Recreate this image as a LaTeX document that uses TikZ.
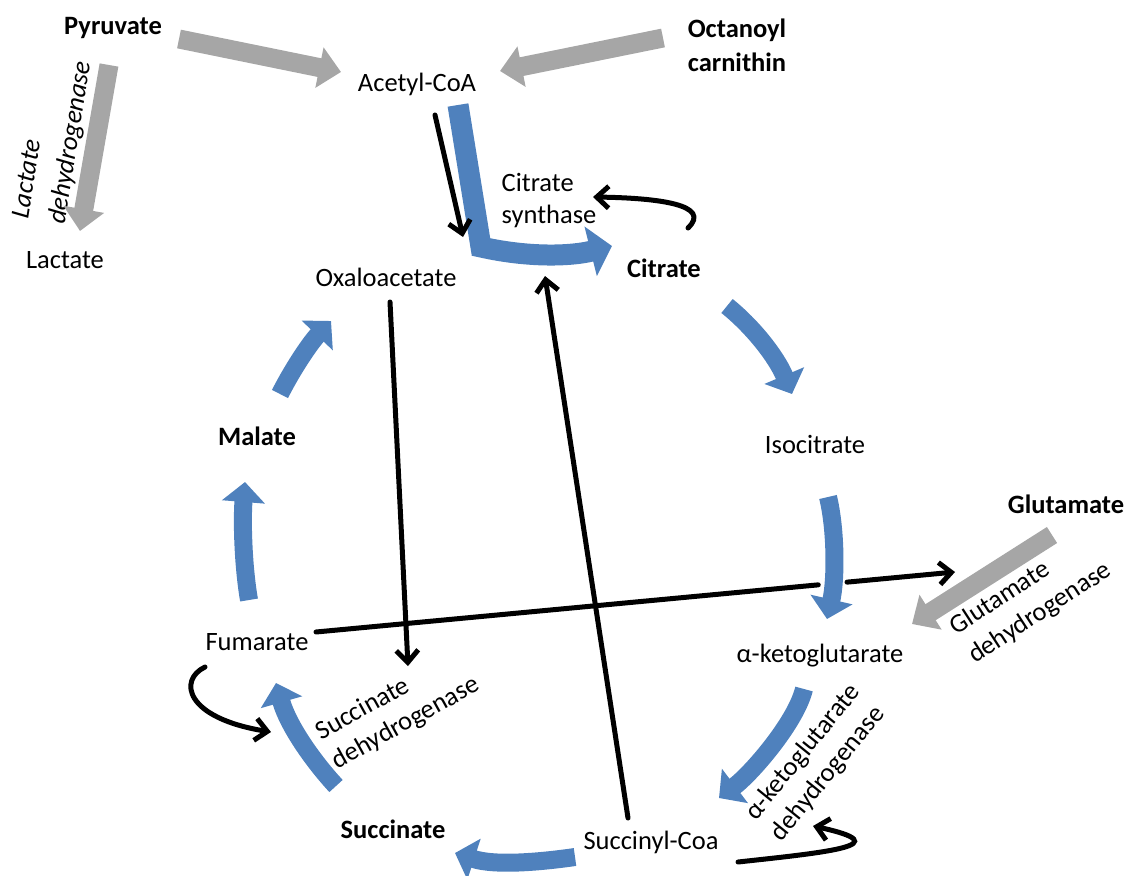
\documentclass[tikz,border=0pt]{standalone}
\usepackage{fontspec}
\setmainfont{Carlito}
\usepackage{xcolor}
\usepackage{tikz}
\usetikzlibrary{arrows.meta}

\definecolor{cycblue}{RGB}{79,129,189}
\definecolor{sidegray}{RGB}{166,166,166}

\begin{document}
\fontsize{26.5}{32}\selectfont
\begin{tikzpicture}[x=1pt, y=-1pt, every node/.style={inner sep=0pt},
  lbl/.style={anchor=base},
  enz/.style={align=left, anchor=center},
  cyc/.style={draw=cycblue, line width=18pt, -{Triangle[width=42pt,length=20pt]}},
  side/.style={draw=sidegray, line width=19pt, -{Triangle[width=40pt,length=22pt]}},
  flow/.style={draw=black, line width=5pt, line cap=round, -{Straight Barb[length=12pt,width=22pt]}}]
\useasboundingbox (0,0) rectangle (1131,875);

% metabolites
\node[lbl, font=\bfseries] (pyr) at (113,35) {Pyruvate};
\node[lbl] (lac) at (65,268) {Lactate};
\node[lbl] (acoa) at (417,91) {Acetyl-CoA};
\node[enz, font=\bfseries] (oct) at (737,45) {Octanoyl\\[2pt]carnithin};
\node[lbl] (oxa) at (386,286) {Oxaloacetate};
\node[lbl, font=\bfseries] (cit) at (664,277) {Citrate};
\node[lbl] (iso) at (815,453) {Isocitrate};
\node[lbl] (akg) at (820,662) {α-ketoglutarate};
\node[lbl, font=\bfseries] (glu) at (1066,513) {Glutamate};
\node[lbl] (scoa) at (651,849) {Succinyl-Coa};
\node[lbl, font=\bfseries] (succ) at (393,838) {Succinate};
\node[lbl] (fum) at (257,650) {Fumarate};
\node[lbl, font=\bfseries] (mal) at (257,445) {Malate};

% enzymes
\node[enz, font=\itshape, rotate=81] (ldh) at (53,140) {Lactate\\[5pt]dehydrogenase};
\node[enz] (cs) at (549,201) {Citrate\\synthase};
\node[enz, rotate=33] (gdh) at (1031,599) {Glutamate\\[2pt]dehydrogenase};
\node[enz, rotate=51] (kgdh) at (816,763) {α-ketoglutarate\\[1pt]dehydrogenase};
\node[enz, rotate=29] (sdh) at (398,709) {Succinate\\[1pt]dehydrogenase};

% arrow ends
\coordinate (p1) at (179,39);   \coordinate (p2) at (341,72);
\coordinate (o1) at (663,38);   \coordinate (o2) at (500,71);
\coordinate (l1) at (109,65);   \coordinate (l2) at (80,231);
\coordinate (g1) at (1052,535); \coordinate (g2) at (912,624);

\coordinate (c0) at (458,105);  \coordinate (c1) at (481,247);  \coordinate (c2) at (612,246);
\coordinate (i1) at (727,306);  \coordinate (i2) at (792,394);
\coordinate (k1) at (828,497);  \coordinate (k2) at (827,619);
\coordinate (s1) at (804,689);  \coordinate (s2) at (719,798);
\coordinate (u1) at (575,857);  \coordinate (u2) at (455,853);
\coordinate (f1) at (336,786);  \coordinate (f2) at (276,683);
\coordinate (m1) at (249,600);  \coordinate (m2) at (245,482);
\coordinate (x1) at (280,394);  \coordinate (x2) at (331,321);

\coordinate (a1) at (435,115);  \coordinate (a2) at (463,237);
\coordinate (b1) at (390,302);  \coordinate (b2) at (408,666);
\coordinate (d1) at (628,818);  \coordinate (d2) at (545,276);
\coordinate (e1) at (316,632);  \coordinate (e2) at (955,572);
\coordinate (h1) at (688,228);  \coordinate (h2) at (593,197);
\coordinate (j1) at (205,667);  \coordinate (j2) at (271,732);
\coordinate (n1) at (738,862);  \coordinate (n2) at (813,826);

% side routes
\draw[side] (p1) -- (p2);
\draw[side] (o1) -- (o2);
\draw[side] (l1) -- (l2);
\draw[side] (g1) -- (g2);

% cycle
\draw[cyc, line width=21pt, line join=miter, -{Triangle[width=50pt,length=22pt]}]
  (c0) -- (c1) .. controls (530,258) and (572,256) .. (c2);
\draw[cyc] (i1) .. controls (752,326) and (776,356) .. (i2);
\draw[cyc] (k1) .. controls (836,530) and (836,580) .. (k2);
\draw[cyc] (s1) .. controls (796,722) and (752,773) .. (s2);
\draw[cyc] (u1) .. controls (540,862) and (495,866) .. (u2);
\draw[cyc] (f1) .. controls (312,760) and (288,725) .. (f2);
\draw[cyc] (m1) .. controls (243,565) and (242,520) .. (m2);
\draw[cyc] (x1) .. controls (292,370) and (310,343) .. (x2);

% regulation
\path (e1) -- (e2) coordinate[pos=0.786] (e3) coordinate[pos=0.831] (e4);
\draw[flow] (a1) -- (a2);
\draw[flow] (b1) -- (b2);
\draw[flow] (d1) -- (d2);
\draw[flow, -] (e1) -- (e3);
\draw[flow] (e4) -- (e2);
\draw[flow] (h1) .. controls (712,205) and (660,198) .. (h2);
\draw[flow] (j1) .. controls (178,680) and (185,718) .. (j2);
\draw[flow] (n1) .. controls (830,852) and (900,845) .. (n2);
\end{tikzpicture}
\end{document}
